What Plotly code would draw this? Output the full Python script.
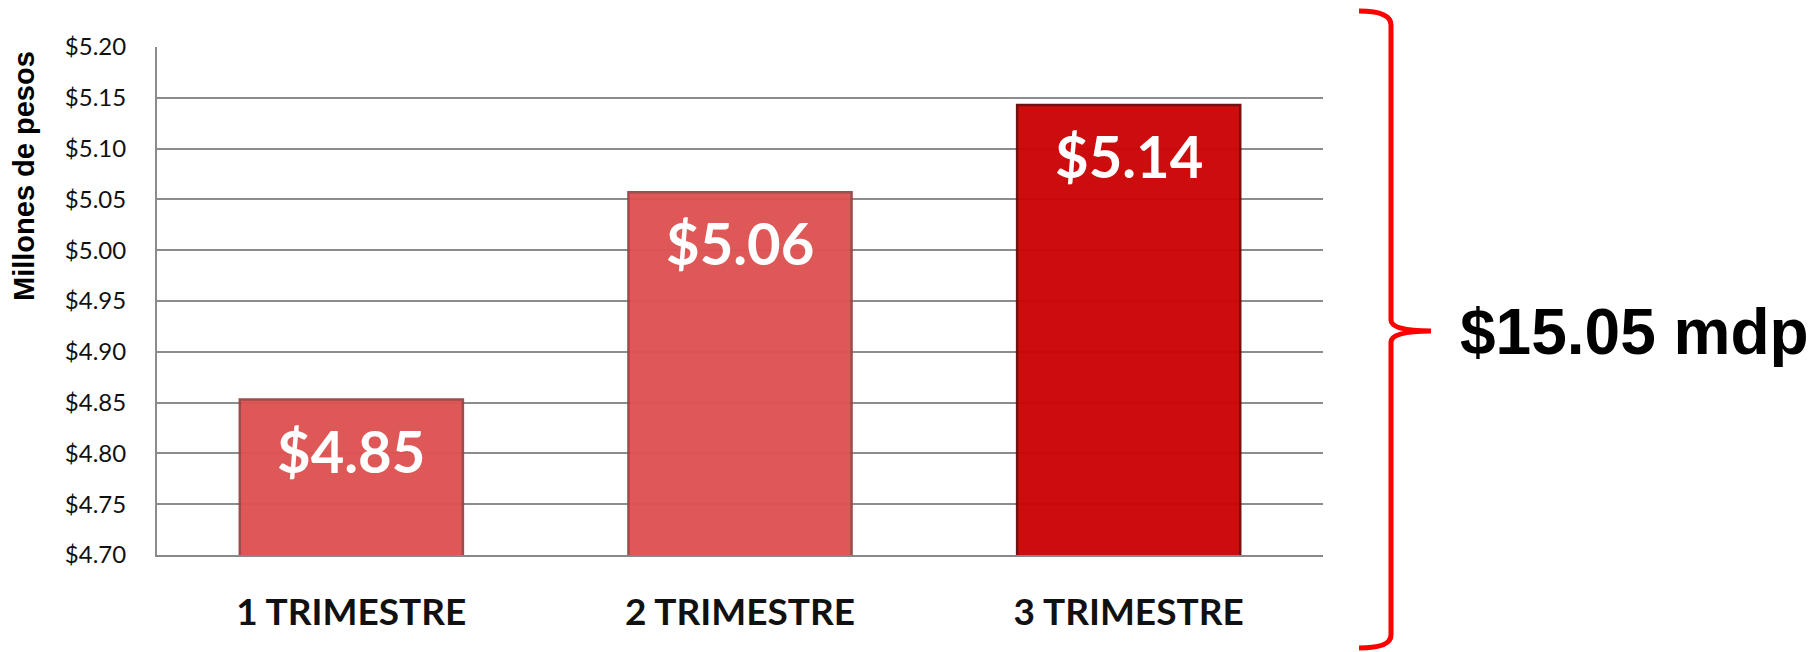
import plotly.graph_objects as go

# ---- data ----
categories = ["1 TRIMESTRE", "2 TRIMESTRE", "3 TRIMESTRE"]
values = [4.853, 5.057, 5.143]
value_labels = ["$4.85", "$5.06", "$5.14"]
tick_vals = [4.70, 4.75, 4.80, 4.85, 4.90, 4.95, 5.00, 5.05, 5.10, 5.15, 5.20]
tick_text = ["$4.70", "$4.75", "$4.80", "$4.85", "$4.90", "$4.95", "$5.00",
             "$5.05", "$5.10", "$5.15", "$5.20"]
y_title = "Millones de pesos"
total_label = "$15.05 mdp"

# ---- layout geometry (page pixels; page body has an 8px margin) ----
OFF = 8
W, H = 1818 - OFF, 652 - OFF
L, R, T, B = 157, 1323, 47, 555


def px(xp):
    return (xp - L) / (R - L)


def py(yp):
    return (B - yp) / (B - T)


bar_colors = ["#DE5252", "#DE5252", "#CC0404"]
edge_colors = ["#9A4646", "#9A4646", "#6E0808"]

fig = go.Figure()
fig.add_trace(go.Bar(
    x=categories,
    y=values,
    marker=dict(color=bar_colors, line=dict(color=edge_colors, width=2.5), opacity=0.96),
    hoverinfo="skip",
))

annotations = []
for c, v, t in zip(categories, values, value_labels):
    annotations.append(dict(
        x=c, y=v, xref="x", yref="y", text=t, showarrow=False,
        yanchor="top", xanchor="center", yshift=-14,
        font=dict(family="Lato", size=58, color="white", weight="bold"),
    ))

annotations.append(dict(
    x=px(24), y=py(176), xref="paper", yref="paper", text=y_title,
    showarrow=False, textangle=-90, xanchor="center", yanchor="middle",
    font=dict(family="Liberation Sans", size=29, color="black", weight="bold"),
))
annotations.append(dict(
    x=px(1634), y=py(332), xref="paper", yref="paper", text=total_label,
    showarrow=False, xanchor="center", yanchor="middle",
    font=dict(family="Liberation Sans", size=64, color="black", weight="bold"),
))

# brace path (decoration) in paper coordinates
pts = [
    ("M", (1359, 11)),
    ("Q", (1391, 11), (1391, 25)),
    ("L", (1391, 320)),
    ("Q", (1391, 331), (1431, 331)),
    ("Q", (1391, 331), (1391, 342)),
    ("L", (1391, 635)),
    ("Q", (1391, 648), (1359, 648)),
]
path = ""
for item in pts:
    cmd = item[0]
    coords = " ".join(f"{px(a):.5f},{py(b):.5f}" for a, b in item[1:])
    path += f"{cmd} {coords} "

fig.update_layout(
    width=W, height=H,
    margin=dict(l=L - OFF, r=(W + OFF) - R, t=T - OFF, b=(H + OFF) - B, pad=0),
    paper_bgcolor="white", plot_bgcolor="white",
    showlegend=False,
    bargap=0.426,
    annotations=annotations,
    shapes=[dict(type="path", path=path.strip(), xref="paper", yref="paper",
                 line=dict(color="#FF0000", width=5))],
    xaxis=dict(
        showgrid=False, showline=True, linecolor="#888888", linewidth=2,
        ticks="", tickfont=dict(family="Lato", size=37, color="#111111", weight="bold"),
        ticklabelstandoff=24,
    ),
    yaxis=dict(
        range=[4.70, 5.20], tickvals=tick_vals, ticktext=tick_text,
        showgrid=True, gridcolor="#8C8C8C", gridwidth=1.5,
        showline=True, linecolor="#8C8C8C", linewidth=2,
        zeroline=False, ticks="",
        tickfont=dict(family="Lato", size=24, color="#111111"),
        ticklabelstandoff=24,
    ),
)

fig.write_html("out.html")
